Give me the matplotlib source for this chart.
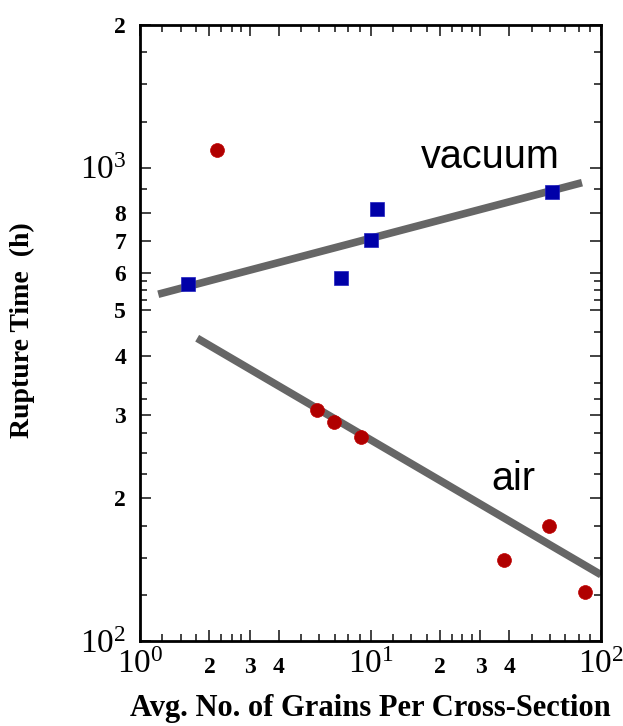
import matplotlib
matplotlib.use("Agg")
import matplotlib.pyplot as plt
from matplotlib.ticker import FixedLocator, FixedFormatter, NullFormatter

# Data
vac_x = [1.62, 7.48, 10.1, 10.7, 61.2]
vac_y = [567, 584, 702, 816, 889]
air_x = [2.16, 5.88, 6.97, 9.05, 37.9, 59.4, 85.2]
air_y = [1091, 308, 290, 270, 148, 175, 127]
vac_fit_x = [1.20, 82.7]
vac_fit_y = [540, 929]
air_fit_x = [1.77, 100]
air_fit_y = [436, 138]

x_major = [1, 2, 3, 4, 10, 20, 30, 40, 100]
x_major_labels = [r"$10^{0}$", "2", "3", "4", r"$10^{1}$", "2", "3", "4", r"$10^{2}$"]
x_minor = [1.25, 1.5, 1.75, 2.25, 2.5, 2.75, 5, 6, 7, 8, 9,
           12.5, 15, 17.5, 22.5, 25, 27.5, 50, 60, 70, 80, 90]
y_major = [100, 200, 300, 400, 500, 600, 700, 800, 1000, 2000]
y_major_labels = [r"$10^{2}$", "2", "3", "4", "5", "6", "7", "8", r"$10^{3}$", "2"]
y_minor = [125, 150, 175, 225, 250, 275, 325, 350, 450, 525, 550, 575,
           900, 1250, 1500, 1750]

plt.rcParams['mathtext.fontset'] = 'custom'
plt.rcParams['mathtext.rm'] = 'Liberation Serif'
plt.rcParams['mathtext.it'] = 'Liberation Serif'
plt.rcParams['font.family'] = ['Liberation Serif']

fig = plt.figure(figsize=(6.23, 7.26), dpi=100)
ax = fig.add_axes([140/623, 1-641/726, 461/623, 616/726])

ax.set_xscale('log')
ax.set_yscale('log')
ax.set_xlim(1, 100)
ax.set_ylim(100, 2000)

ax.plot(vac_fit_x, vac_fit_y, color='#666666', lw=5.5, solid_capstyle='butt', zorder=2)
ax.plot(air_fit_x, air_fit_y, color='#666666', lw=5.5, solid_capstyle='butt', zorder=2)
ax.plot(vac_x, vac_y, 's', color='#0000a8', markersize=9.5, mec='#2020c0', mew=0.5, zorder=3, clip_on=False)
ax.plot(air_x, air_y, 'o', color='#b00000', markersize=10, mec='#c00000', mew=0.5, zorder=3, clip_on=False)

ax.text(0.61, 0.768, "vacuum", transform=ax.transAxes, family="Liberation Sans",
        fontsize=28.5, ha="left", va="baseline")
ax.text(0.762, 0.245, "air", transform=ax.transAxes, family="Liberation Sans",
        fontsize=28.5, ha="left", va="baseline")

ax.xaxis.set_major_locator(FixedLocator(x_major))
ax.xaxis.set_major_formatter(FixedFormatter(x_major_labels))
ax.xaxis.set_minor_locator(FixedLocator(x_minor))
ax.xaxis.set_minor_formatter(NullFormatter())
ax.yaxis.set_major_locator(FixedLocator(y_major))
ax.yaxis.set_major_formatter(FixedFormatter(y_major_labels))
ax.yaxis.set_minor_locator(FixedLocator(y_minor))
ax.yaxis.set_minor_formatter(NullFormatter())

ax.tick_params(which='both', direction='in', top=True, right=True, width=1.2, color='#222222')
ax.tick_params(which='major', length=8)
ax.tick_params(which='minor', length=5)
ax.tick_params(axis='x', which='major', pad=23)
ax.tick_params(axis='y', which='major', pad=10)

for s in ax.spines.values():
    s.set_linewidth(2.0)

ax.set_xlabel("Avg. No. of Grains Per Cross-Section", fontsize=22, fontweight='bold')
ax.xaxis.label.set_verticalalignment('center')
ax.xaxis.set_label_coords(0.499, -0.109)
ax.set_ylabel("Rupture Time  (h)", fontsize=20, fontweight='bold')
ax.yaxis.label.set_verticalalignment('center')
ax.yaxis.set_label_coords(-0.254, 0.505)

fig.canvas.draw()
for i, tk in enumerate(ax.xaxis.get_major_ticks()):
    lab = tk.label1
    lab.set_verticalalignment('baseline')
    if x_major_labels[i].startswith("$"):
        lab.set_fontsize(24)
    else:
        lab.set_fontsize(17)
        lab.set_fontweight('bold')
for i, tk in enumerate(ax.yaxis.get_major_ticks()):
    lab = tk.label1
    if y_major_labels[i].startswith("$"):
        lab.set_fontsize(24)
    else:
        lab.set_fontsize(17)
        lab.set_fontweight('bold')

fig.savefig("out.png", dpi=100)
